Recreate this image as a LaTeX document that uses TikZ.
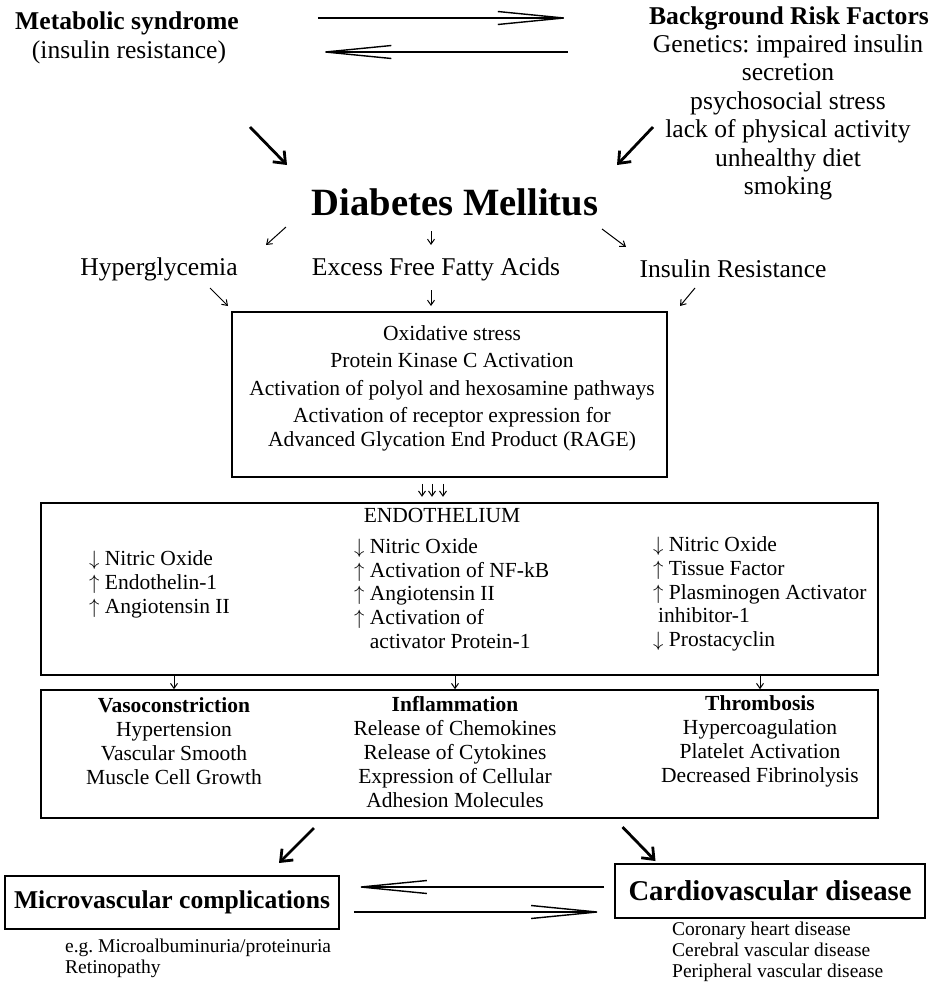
\documentclass[tikz,border=0pt]{standalone}
\usepackage{fontspec}
\setmainfont{Liberation Serif}
\frenchspacing
\usetikzlibrary{arrows.meta}
\newcommand\szbig{\fontsize{25.6pt}{28.5pt}\selectfont}
\newcommand\szdm{\fontsize{38.6pt}{44pt}\selectfont}
\newcommand\szox{\fontsize{21.5pt}{27.5pt}\selectfont}
\newcommand\szbox{\fontsize{21.5pt}{23.8pt}\selectfont}
\newcommand\szeff{\fontsize{21.5pt}{24pt}\selectfont}
\newcommand\szcvd{\fontsize{28.7pt}{32pt}\selectfont}
\newcommand\szsmall{\fontsize{19.5pt}{21pt}\selectfont}
\newcommand\dn{$\downarrow$}
\newcommand\up{$\uparrow$}
\begin{document}
\begin{tikzpicture}[x=1pt,y=-1pt,
txt/.style={inner sep=0pt,align=center},
frame/.style={draw,line width=1.6pt,inner sep=0pt},
longarr/.style={line width=1.4pt,-{Straight Barb[length=66pt,width=13pt]}},
bigarr/.style={line width=2.8pt,-{Straight Barb[length=10pt,width=16pt]}},
thinarr/.style={line width=1pt,-{Straight Barb[length=5pt,width=7pt]}}]
\useasboundingbox(0,0)rectangle(931,983);
\node[txt,font=\szbig\bfseries](ms)at(127,23){Metabolic syndrome};
\node[txt,font=\szbig](msir)at(129,52){(insulin resistance)};
\node[txt,font=\szbig\bfseries](brf)at(789,18){Background Risk Factors};
\node[txt,font=\szbig](brl)at(788,117.5){Genetics: impaired insulin\\secretion\\psychosocial stress\\lack of physical activity\\unhealthy diet\\smoking};
\node[txt,font=\szdm\bfseries](dm)at(455,202){Diabetes Mellitus};
\node[txt,font=\szbig](hg)at(159,269){Hyperglycemia};
\node[txt,font=\szbig](effa)at(436,269){Excess Free Fatty Acids};
\node[txt,font=\szbig](ir)at(733,269){Insulin Resistance};
\node[frame,minimum width=435pt,minimum height=165pt](ox)at(449.5,394.5){};
\node[txt,font=\szox](oxt)at(452,388.5){Oxidative stress\\Protein Kinase C Activation\\Activation of polyol and hexosamine pathways\\Activation of receptor expression for\\[-3.5pt]Advanced Glycation End Product (RAGE)};
\node[frame,minimum width=837pt,minimum height=172pt](endo)at(459.5,589){};
\node[txt,font=\szbox](endt)at(442,515){ENDOTHELIUM};
\node[txt,font=\szeff,align=left,anchor=west](e1)at(89,584){\dn\ Nitric Oxide\\\up\ Endothelin-1\\\up\ Angiotensin II};
\node[txt,font=\szbox,align=left,anchor=west](e2)at(354,595.5){\dn\ Nitric Oxide\\\up\ Activation of NF-kB\\\up\ Angiotensin II\\\up\ Activation of\\\phantom{\up\ }activator Protein-1};
\node[txt,font=\szbox,align=left,anchor=west](e3)at(653,594){\dn\ Nitric Oxide\\\up\ Tissue Factor\\\up\ Plasminogen Activator\\\hspace{5pt}inhibitor-1\\\dn\ Prostacyclin};
\node[frame,minimum width=837pt,minimum height=128pt](eff)at(459.5,754){};
\node[txt,font=\szeff](vaso)at(174,741){\textbf{Vasoconstriction}\\Hypertension\\Vascular Smooth\\Muscle Cell Growth};
\node[txt,font=\szeff](infl)at(455,752.5){\textbf{Inflammation}\\Release of Chemokines\\Release of Cytokines\\Expression of Cellular\\Adhesion Molecules};
\node[txt,font=\szeff](thr)at(760,741){\textbf{Thrombosis}\\Hypercoagulation\\Platelet Activation\\Decreased Fibrinolysis};
\node[frame,font=\szbig\bfseries,minimum width=334pt,minimum height=53pt](mc)at(172,902.5){Microvascular complications};
\node[frame,font=\szcvd\bfseries,minimum width=310pt,minimum height=54pt](cvd)at(770,891){Cardiovascular disease};
\node[txt,font=\szsmall,align=left,anchor=west](mcl)at(65,958){e.g. Microalbuminuria/proteinuria\\Retinopathy};
\node[txt,font=\szsmall,align=left,anchor=west](cvdl)at(672,952){Coronary heart disease\\Cerebral vascular disease\\Peripheral vascular disease};
\draw[longarr,shorten <=79pt,shorten >=78pt](ms.east|-brf.west)--(brf.west);
\draw[longarr,shorten <=81pt,shorten >=92pt](msir.east-|brf.west)--(msir.east);
\draw[bigarr]([shift={(121,75)}]msir.center)--++(37,38);
\draw[bigarr]([shift={(-135,9.5)}]brl.center)--++(-36,38);
\draw[thinarr]([shift={(-169,25)}]dm.center)--++(-20,18);
\draw[thinarr]([shift={(-24,29)}]dm.center)--++(0,14);
\draw[thinarr]([shift={(147,27)}]dm.center)--++(24,18);
\draw[thinarr]([shift={(51,19)}]hg.center)--++(18,18);
\draw[thinarr]([shift={(-5,21)}]effa.center)--++(0,16);
\draw[thinarr]([shift={(-38,19)}]ir.center)--++(-15,18);
\foreach \dx in {-27.5,-17.5,-6.5}
  \draw[thinarr,shorten <=6pt,shorten >=7pt]([xshift=\dx pt]ox.south)--++(0,26);
\foreach \col in {vaso,infl,thr}
  \draw[thinarr](endo.south-|\col.north)--(eff.north-|\col.north);
\draw[bigarr]([shift={(-145.5,74)}]eff.center)--++(-35,35);
\draw[bigarr]([shift={(163,73)}]eff.center)--++(33,34);
\coordinate(cvdup)at([yshift=4pt]cvd.west);
\coordinate(cvddn)at([yshift=-21pt]cvd.west);
\draw[longarr,shorten <=10pt,shorten >=14pt](cvdup)--(cvdup-|mc.east);
\draw[longarr,shorten <=14pt,shorten >=10pt](cvddn-|mc.east)--(cvddn);
\end{tikzpicture}
\end{document}
